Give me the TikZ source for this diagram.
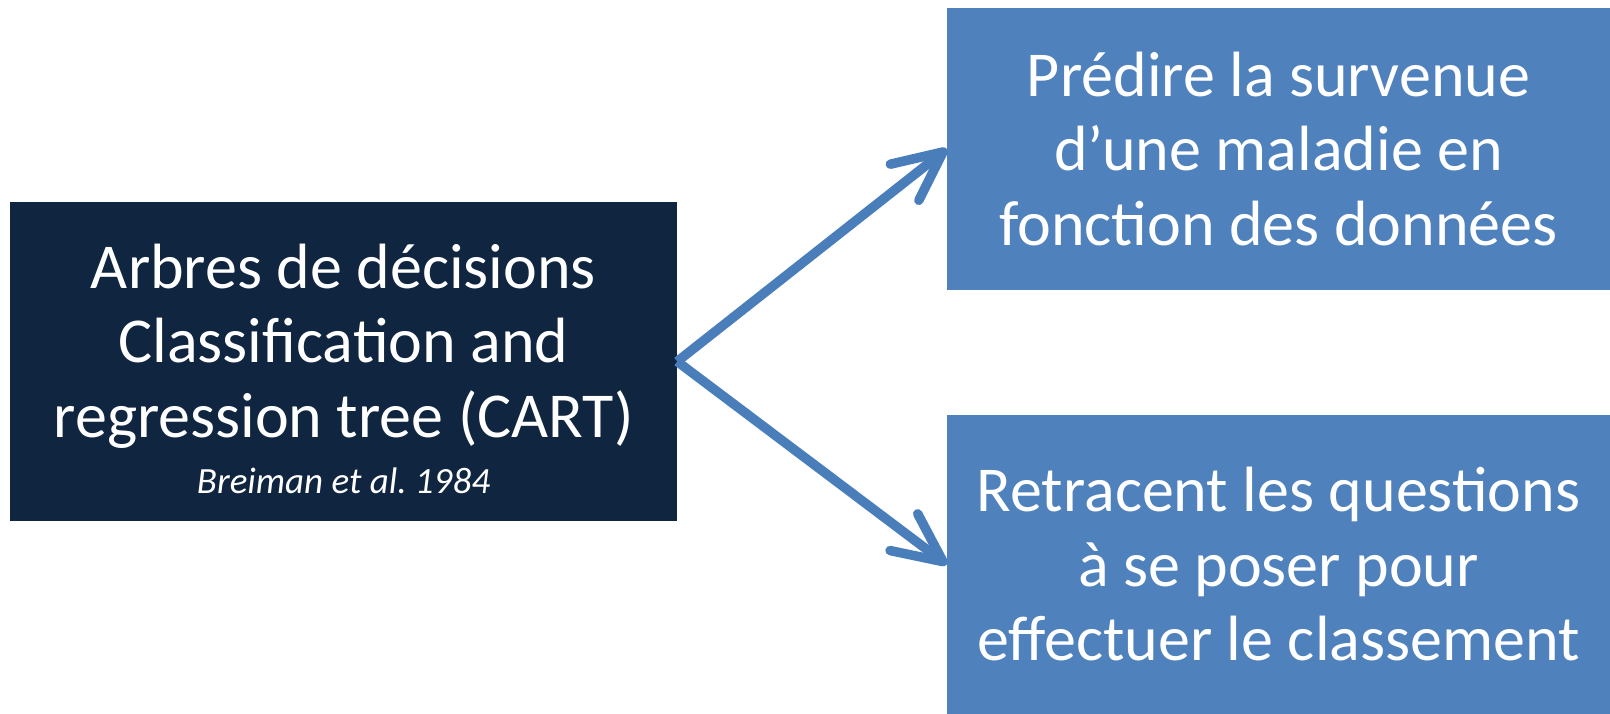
\documentclass[tikz,border=0pt]{standalone}
\usepackage{fontspec}
\setmainfont{Carlito}
\usetikzlibrary{arrows.meta}
\definecolor{navy}{HTML}{10253F}
\definecolor{accent}{HTML}{4F81BD}
\definecolor{arrowblue}{HTML}{4A7EBB}
\begin{document}
\begin{tikzpicture}[x=1pt,y=-1pt,
  box/.style={rectangle, inner sep=0pt, text=white, align=center,
    font=\fontsize{64}{74.5}\selectfont},
  conn/.style={draw=arrowblue, line width=9.5pt,
    -{Straight Barb[length=49pt,width=46pt,round]}}]
\useasboundingbox (0,0) rectangle (1610,714);
\node[box, fill=navy, minimum width=667pt, minimum height=319pt] (cart) at (343.5,361.5)
  {\rule{0pt}{59pt}Arbres de décisions\\Classification and\\regression tree (CART)\\[-18pt]
   {\fontsize{37}{44}\selectfont\itshape Breiman et al.\ 1984}};
\node[box, fill=accent, minimum width=663pt, minimum height=282pt] (pred) at (1278.5,149)
  {Prédire la survenue\\d’une maladie en\\fonction des données};
\node[box, fill=accent, minimum width=663pt, minimum height=299pt] (retr) at (1278.5,564.5)
  {Retracent les questions\\à se poser pour\\effectuer le classement};
\draw[conn] (cart.east) -- (pred.west);
\draw[conn] (cart.east) -- (retr.west);
\end{tikzpicture}
\end{document}
